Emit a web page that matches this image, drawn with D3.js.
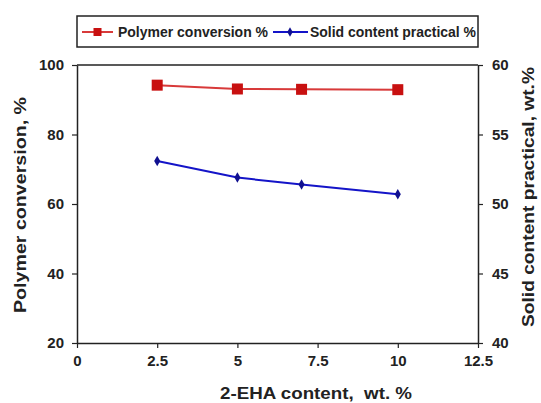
<!DOCTYPE html>
<html><head><meta charset="utf-8">
<script src="https://cdn.jsdelivr.net/npm/d3@7"></script>
<style>body{margin:0;background:#fff;}svg{display:block;font-family:"Liberation Sans",Arial,sans-serif;}</style>
</head><body>
<svg id="c" width="541" height="403"></svg>
<script>
const xValues = [2.5, 5, 7, 10];
const conversion = [94.2, 93.1, 93.0, 92.9];
const solidContent = [53.1, 51.9, 51.4, 50.7];
const xTicks = [0, 2.5, 5, 7.5, 10, 12.5];
const leftTicks = [20, 40, 60, 80, 100];
const rightTicks = [40, 45, 50, 55, 60];

const svg = d3.select("#c");
const L = 77, R = 478, T = 65, B = 343;
const x = d3.scaleLinear().domain([0, 12.5]).range([L, R]);
const yL = d3.scaleLinear().domain([20, 100]).range([B, T]);
const yR = d3.scaleLinear().domain([40, 60]).range([B, T]);
const red = "#c81010", blue = "#1414c8", txt = "#222";

svg.append("line").attr("x1", L).attr("x2", R).attr("y1", T).attr("y2", T).attr("stroke", "#222").attr("stroke-width", 1.5);

function styleAxis(g) {
  g.select(".domain").attr("stroke", "#222").attr("stroke-width", 1.5);
  g.selectAll(".tick line").attr("stroke", "#222").attr("stroke-width", 1.2);
  g.selectAll(".tick text").attr("fill", txt).attr("font-size", 15).attr("font-weight", "bold");
}
svg.append("g").attr("transform", `translate(0,${B})`)
  .call(d3.axisBottom(x).tickValues(xTicks).tickFormat(d3.format("")).tickSize(5).tickPadding(7).tickSizeOuter(0))
  .call(styleAxis);
svg.append("g").attr("transform", `translate(${L},0)`)
  .call(d3.axisLeft(yL).tickValues(leftTicks).tickSize(5).tickPadding(8).tickSizeOuter(0))
  .call(styleAxis);
svg.append("g").attr("transform", `translate(${R},0)`)
  .call(d3.axisRight(yR).tickValues(rightTicks).tickSize(5).tickPadding(9).tickSizeOuter(0))
  .call(styleAxis);

// titles
svg.append("text").attr("x", 316).attr("y", 399).attr("text-anchor", "middle")
  .attr("font-size", 17).attr("font-weight", "bold").attr("fill", txt).attr("xml:space", "preserve")
  .attr("textLength", 192).attr("lengthAdjust", "spacingAndGlyphs").text("2-EHA content,  wt. %");
svg.append("text").attr("transform", `translate(26,205) rotate(-90)`).attr("text-anchor", "middle")
  .attr("font-size", 16).attr("font-weight", "bold").attr("fill", txt)
  .attr("textLength", 216).attr("lengthAdjust", "spacingAndGlyphs").text("Polymer conversion, %");
svg.append("text").attr("transform", `translate(534,197) rotate(-90)`).attr("text-anchor", "middle")
  .attr("font-size", 16).attr("font-weight", "bold").attr("fill", txt)
  .attr("textLength", 260).attr("lengthAdjust", "spacingAndGlyphs").text("Solid content practical, wt.%");

// series
const pts1 = xValues.map((v, i) => [v, conversion[i]]);
const pts2 = xValues.map((v, i) => [v, solidContent[i]]);
svg.append("path").datum(pts1).attr("fill", "none").attr("stroke", "#d83a3a").attr("stroke-width", 2)
  .attr("d", d3.line().x(d => x(d[0])).y(d => yL(d[1])));
svg.selectAll(".sq").data(pts1).enter().append("rect")
  .attr("x", d => x(d[0]) - 5.5).attr("y", d => yL(d[1]) - 5.5).attr("width", 11).attr("height", 11)
  .attr("fill", red);
svg.append("path").datum(pts2).attr("fill", "none").attr("stroke", blue).attr("stroke-width", 2)
  .attr("d", d3.line().x(d => x(d[0])).y(d => yR(d[1])));
svg.selectAll(".dm").data(pts2).enter().append("path")
  .attr("transform", d => `translate(${x(d[0])},${yR(d[1])})`)
  .attr("d", d3.symbol(d3.symbolDiamond, 32)).attr("fill", "#101090");

// legend
const lg = svg.append("g");
lg.append("rect").attr("x", 77).attr("y", 16).attr("width", 401).attr("height", 31)
  .attr("fill", "#fff").attr("stroke", "#222").attr("stroke-width", 1.5);
lg.append("line").attr("x1", 82).attr("x2", 113).attr("y1", 32).attr("y2", 32).attr("stroke", "#d83a3a").attr("stroke-width", 2);
lg.append("rect").attr("x", 93.5).attr("y", 28).attr("width", 8).attr("height", 8).attr("fill", red);
lg.append("text").attr("x", 118).attr("y", 37).attr("font-size", 14).attr("font-weight", "bold").attr("fill", txt)
  .attr("textLength", 150).attr("lengthAdjust", "spacingAndGlyphs").text("Polymer conversion %");
lg.append("line").attr("x1", 273).attr("x2", 308).attr("y1", 32).attr("y2", 32).attr("stroke", blue).attr("stroke-width", 2);
lg.append("path").attr("transform", "translate(290,32)").attr("d", d3.symbol(d3.symbolDiamond, 26)).attr("fill", "#101090");
lg.append("text").attr("x", 310).attr("y", 37).attr("font-size", 14).attr("font-weight", "bold").attr("fill", txt)
  .attr("textLength", 166).attr("lengthAdjust", "spacingAndGlyphs").text("Solid content practical %");
</script>
</body></html>
